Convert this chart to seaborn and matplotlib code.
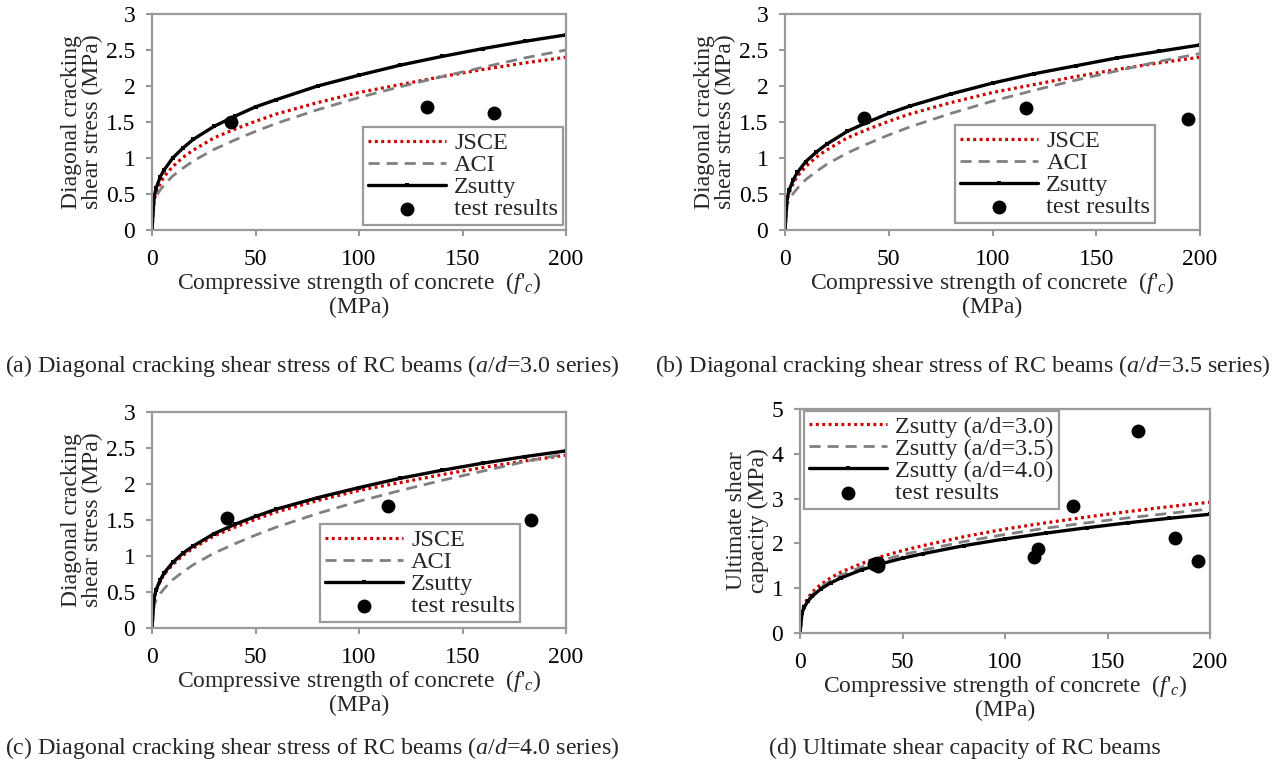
import numpy as np
import pandas as pd
import seaborn as sns
import matplotlib.pyplot as plt

# compressive strength grid (MPa) and curve values
fc = [0, 1, 2, 4, 6, 10, 15, 20, 30, 40, 50, 60, 80, 100, 120, 140, 160, 180, 200]

jsce = [0, 0.41, 0.52, 0.65, 0.75, 0.88, 1.01, 1.11, 1.28, 1.40, 1.51, 1.61, 1.77, 1.91, 2.02, 2.13, 2.23, 2.32, 2.40]
aci_30 = [0, 0.40, 0.47, 0.56, 0.63, 0.75, 0.86, 0.96, 1.12, 1.25, 1.37, 1.48, 1.67, 1.84, 1.99, 2.13, 2.26, 2.39, 2.50]
aci_35 = [0, 0.35, 0.42, 0.51, 0.58, 0.70, 0.81, 0.91, 1.07, 1.20, 1.32, 1.43, 1.62, 1.79, 1.94, 2.08, 2.21, 2.34, 2.45]
aci_40 = [0, 0.32, 0.39, 0.48, 0.55, 0.67, 0.78, 0.88, 1.04, 1.17, 1.29, 1.40, 1.59, 1.76, 1.91, 2.05, 2.18, 2.31, 2.42]
zsutty_30 = [0, 0.46, 0.58, 0.74, 0.84, 1.00, 1.14, 1.26, 1.44, 1.58, 1.71, 1.81, 2.00, 2.15, 2.29, 2.41, 2.52, 2.62, 2.71]
zsutty_35 = [0, 0.44, 0.55, 0.70, 0.80, 0.95, 1.08, 1.19, 1.37, 1.50, 1.62, 1.72, 1.89, 2.04, 2.17, 2.28, 2.39, 2.48, 2.57]
zsutty_40 = [0, 0.42, 0.53, 0.67, 0.77, 0.91, 1.04, 1.14, 1.31, 1.44, 1.55, 1.65, 1.81, 1.95, 2.08, 2.19, 2.29, 2.38, 2.46]
ult_30 = [0, 0.50, 0.63, 0.79, 0.91, 1.08, 1.23, 1.36, 1.55, 1.71, 1.84, 1.95, 2.15, 2.32, 2.46, 2.59, 2.71, 2.82, 2.92]
ult_35 = [0, 0.47, 0.60, 0.75, 0.86, 1.02, 1.17, 1.29, 1.47, 1.62, 1.75, 1.85, 2.04, 2.20, 2.34, 2.46, 2.57, 2.67, 2.77]
ult_40 = [0, 0.45, 0.57, 0.72, 0.82, 0.98, 1.12, 1.23, 1.41, 1.55, 1.67, 1.77, 1.95, 2.10, 2.23, 2.35, 2.46, 2.56, 2.65]

# test results
test_a_fc = [38, 133, 165]
test_a_v = [1.50, 1.71, 1.63]
test_b_fc = [38, 116, 194]
test_b_v = [1.56, 1.70, 1.54]
test_c_fc = [36, 114, 183]
test_c_v = [1.53, 1.70, 1.50]
test_d_fc = [38, 133, 165, 38, 116, 194, 36, 114, 183]
test_d_v = [1.50, 2.83, 4.51, 1.56, 1.87, 1.60, 1.53, 1.69, 2.12]

sns.set_theme(style="white")
plt.rcParams['font.family'] = ['Liberation Serif', 'DejaVu Serif']
plt.rcParams['mathtext.fontset'] = 'custom'
plt.rcParams['mathtext.rm'] = 'Liberation Serif'
plt.rcParams['mathtext.it'] = 'Liberation Serif:italic'

W, H = 1285, 767
fig = plt.figure(figsize=(W / 100, H / 100), dpi=100)

def make_axes(l, r, t, b):
    return fig.add_axes([l / W, 1 - b / H, (r - l) / W, (b - t) / H])

GREY = '#9a9a9a'
TICK_FS = 17
LAB_FS = 17
LEG_FS = 17.5
xlab = "Compressive strength of concrete  ($\\mathit{f}$'${}_{\\mathit{c}}$)\n(MPa)"

def style(ax, ymax, ystep, ylabel):
    ax.set_xlim(0, 200)
    ax.set_ylim(0, ymax)
    ax.set_xticks(np.arange(0, 201, 50))
    ax.set_yticks(np.arange(0, ymax + 0.001, ystep))
    ax.set_yticklabels([('%g' % v) for v in np.arange(0, ymax + 0.001, ystep)])
    for s in ax.spines.values():
        s.set_color(GREY)
        s.set_linewidth(1.6)
    ax.tick_params(direction='out', length=4, width=1.5, color=GREY,
                   labelsize=TICK_FS, pad=8, labelcolor='black',
                   bottom=True, left=True)
    ax.tick_params(axis='x', pad=10)
    ax.set_xlabel(xlab, fontsize=LAB_FS, labelpad=0, linespacing=1.0)
    ax.set_ylabel(ylabel, fontsize=LAB_FS, labelpad=2, linespacing=1.0)

def curves(ax, ys, labels, test_x, test_y):
    sns.lineplot(x=fc, y=ys[0], ax=ax, color='#cc0000', lw=2.3,
                 linestyle=(0, (0.9, 1.1)), label=labels[0])
    sns.lineplot(x=fc, y=ys[1], ax=ax, color='#808080', lw=2.0,
                 linestyle=(0, (4, 2.5)), label=labels[1])
    sns.lineplot(x=fc, y=ys[2], ax=ax, color='black', lw=2.4,
                 marker='s', markersize=2.2, markeredgewidth=0,
                 markerfacecolor='black', label=labels[2])
    sns.scatterplot(x=test_x, y=test_y, ax=ax, color='black', s=100,
                    edgecolor='black', linewidth=0, label='test results', zorder=5)

def legend(ax, loc, anchor):
    lg = ax.legend(loc=loc, bbox_to_anchor=anchor, borderaxespad=0,
                   fontsize=LEG_FS, handlelength=3.2, handletextpad=0.35,
                   labelspacing=0.0, borderpad=0.2, fancybox=False,
                   framealpha=1, edgecolor=GREY)
    lg.get_frame().set_linewidth(1.6)

ylab1 = "Diagonal cracking\nshear stress (MPa)"

ax_a = make_axes(152, 566, 14, 230)
curves(ax_a, [jsce, aci_30, zsutty_30], ['JSCE', 'ACI', 'Zsutty'], test_a_fc, test_a_v)
style(ax_a, 3, 0.5, ylab1)
legend(ax_a, 'lower right', (0.993, 0.023))

ax_b = make_axes(785, 1200, 14, 230)
curves(ax_b, [jsce, aci_35, zsutty_35], ['JSCE', 'ACI', 'Zsutty'], test_b_fc, test_b_v)
style(ax_b, 3, 0.5, ylab1)
legend(ax_b, 'lower right', (0.892, 0.032))

ax_c = make_axes(152, 566, 412, 628)
curves(ax_c, [jsce, aci_40, zsutty_40], ['JSCE', 'ACI', 'Zsutty'], test_c_fc, test_c_v)
style(ax_c, 3, 0.5, ylab1)
legend(ax_c, 'lower right', (0.889, 0.028))

ax_d = make_axes(800, 1210, 409, 633)
curves(ax_d, [ult_30, ult_35, ult_40],
       ['Zsutty (a/d=3.0)', 'Zsutty (a/d=3.5)', 'Zsutty (a/d=4.0)'], test_d_fc, test_d_v)
style(ax_d, 5, 1, "Ultimate shear\ncapacity (MPa)")
legend(ax_d, 'upper left', (0.01, 0.991))

cap_fs = 17.3
fig.text(5 / W, 1 - 366 / H,
         "(a) Diagonal cracking shear stress of RC beams ($\\mathit{a}$/$\\mathit{d}$=3.0 series)",
         fontsize=cap_fs, va='center', ha='left')
fig.text(655 / W, 1 - 366 / H,
         "(b) Diagonal cracking shear stress of RC beams ($\\mathit{a}$/$\\mathit{d}$=3.5 series)",
         fontsize=cap_fs, va='center', ha='left')
fig.text(5 / W, 1 - 748 / H,
         "(c) Diagonal cracking shear stress of RC beams ($\\mathit{a}$/$\\mathit{d}$=4.0 series)",
         fontsize=cap_fs, va='center', ha='left')
fig.text(769 / W, 1 - 748 / H, "(d) Ultimate shear capacity of RC beams",
         fontsize=cap_fs, va='center', ha='left')

fig.savefig('out.png', dpi=100)
